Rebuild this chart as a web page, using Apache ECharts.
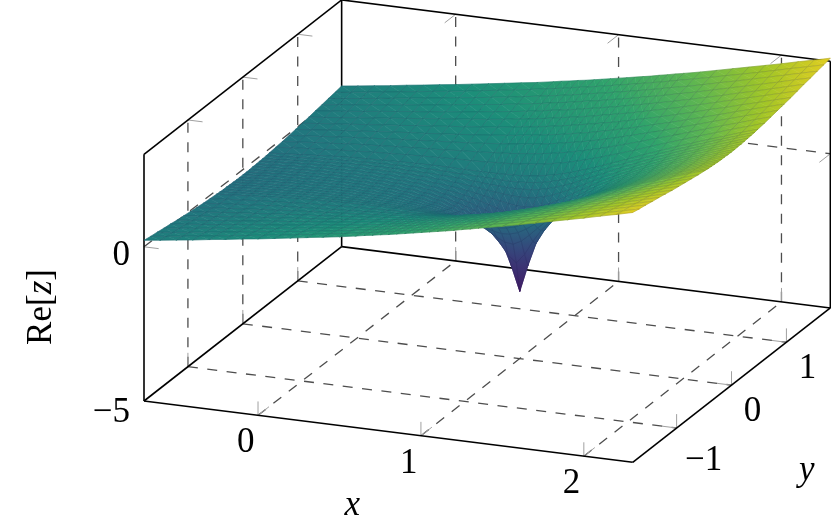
<!DOCTYPE html>
<html><head><meta charset="utf-8"><style>html,body{margin:0;padding:0;background:#fff}#c{width:831px;height:525px}</style>
<script src="https://cdn.jsdelivr.net/npm/echarts@6/dist/echarts.min.js"></script></head><body><div id="c"></div>
<script>
const xTicks=[0,1,2], yTicks=[-1,0,1], zTicks=[-5,0];
const xTickLabels=['0','1','2'], yTickLabels=['\u22121','0','1'], zTickLabels=['\u22125','0'];
const xRange=[-0.7,2.3], yRange=[-1.8,1.8], zRange=[-5,3];
const xValues=[-0.7,-0.6,-0.5,-0.4,-0.3,-0.2,-0.1,0,0.1,0.2,0.3,0.4,0.5,0.6,0.65,0.7,0.75,0.8,0.85,0.9,0.95,1,1.05,1.1,1.15,1.2,1.25,1.3,1.35,1.4,1.5,1.6,1.7,1.8,1.9,2,2.1,2.2,2.3];
const yHalf=[0,0.06,0.12,0.18,0.24,0.3,0.36,0.42,0.48,0.6,0.72,0.84,0.96,1.08,1.2,1.32,1.44,1.56,1.68,1.8];
const zHalf=[
[-0.17,-0.13,-0.09,-0.06,-0.04,-0.02,0,0,-0.01,-0.02,-0.06,-0.11,-0.19,-0.32,-0.40,-0.50,-0.64,-0.81,-1.05,-1.40,-2.05,-2.82,-1.95,-1.20,-0.75,-0.41,-0.14,0.10,0.30,0.48,0.81,1.09,1.34,1.58,1.79,2.00,2.20,2.38,2.56],
[-0.17,-0.13,-0.09,-0.06,-0.04,-0.02,0,0,0,-0.02,-0.05,-0.11,-0.19,-0.31,-0.39,-0.48,-0.61,-0.77,-0.97,-1.25,-1.60,-1.81,-1.50,-1.05,-0.67,-0.37,-0.11,0.12,0.31,0.49,0.81,1.09,1.35,1.58,1.80,2.00,2.20,2.38,2.56],
[-0.17,-0.13,-0.09,-0.06,-0.03,-0.01,0,0.01,0,-0.01,-0.04,-0.09,-0.17,-0.27,-0.34,-0.43,-0.53,-0.66,-0.80,-0.96,-1.09,-1.12,-0.99,-0.76,-0.50,-0.26,-0.03,0.17,0.36,0.53,0.83,1.11,1.36,1.59,1.80,2.01,2.20,2.39,2.57],
[-0.16,-0.12,-0.09,-0.06,-0.03,-0.01,0.01,0.02,0.01,0,-0.02,-0.07,-0.13,-0.22,-0.28,-0.35,-0.43,-0.51,-0.60,-0.68,-0.73,-0.71,-0.63,-0.48,-0.30,-0.11,0.07,0.25,0.42,0.58,0.87,1.13,1.38,1.60,1.81,2.02,2.21,2.39,2.57],
[-0.16,-0.12,-0.08,-0.05,-0.02,0,0.02,0.03,0.03,0.02,0,-0.04,-0.09,-0.16,-0.21,-0.26,-0.31,-0.36,-0.41,-0.45,-0.46,-0.43,-0.36,-0.25,-0.11,0.04,0.19,0.34,0.49,0.64,0.91,1.16,1.40,1.62,1.83,2.03,2.22,2.40,2.58],
[-0.15,-0.11,-0.07,-0.04,-0.01,0.01,0.03,0.04,0.05,0.04,0.03,0,-0.04,-0.09,-0.12,-0.16,-0.19,-0.22,-0.24,-0.25,-0.24,-0.20,-0.14,-0.05,0.06,0.18,0.31,0.44,0.58,0.71,0.96,1.20,1.43,1.64,1.85,2.04,2.23,2.41,2.59],
[-0.15,-0.11,-0.07,-0.03,0,0.03,0.05,0.06,0.07,0.06,0.06,0.04,0.02,-0.02,-0.04,-0.06,-0.07,-0.09,-0.09,-0.08,-0.06,-0.02,0.04,0.12,0.21,0.31,0.43,0.54,0.66,0.78,1.02,1.24,1.46,1.67,1.87,2.06,2.25,2.43,2.60],
[-0.14,-0.10,-0.06,-0.02,0.01,0.04,0.06,0.08,0.09,0.10,0.10,0.09,0.07,0.06,0.05,0.04,0.03,0.03,0.04,0.06,0.09,0.13,0.19,0.26,0.34,0.43,0.53,0.64,0.75,0.86,1.07,1.29,1.50,1.70,1.89,2.08,2.26,2.44,2.61],
[-0.13,-0.09,-0.05,-0.01,0.03,0.06,0.08,0.10,0.12,0.13,0.14,0.14,0.13,0.13,0.13,0.13,0.14,0.15,0.16,0.19,0.22,0.27,0.32,0.39,0.46,0.55,0.64,0.73,0.83,0.93,1.13,1.34,1.54,1.73,1.92,2.10,2.28,2.46,2.63],
[-0.11,-0.06,-0.02,0.02,0.06,0.09,0.13,0.15,0.18,0.20,0.22,0.24,0.25,0.27,0.29,0.30,0.32,0.34,0.37,0.40,0.44,0.49,0.54,0.60,0.67,0.74,0.82,0.90,0.99,1.07,1.25,1.44,1.62,1.80,1.98,2.15,2.33,2.49,2.66],
[-0.09,-0.04,0.01,0.05,0.10,0.14,0.17,0.21,0.24,0.27,0.30,0.34,0.37,0.41,0.43,0.45,0.48,0.51,0.54,0.58,0.62,0.67,0.72,0.78,0.84,0.91,0.98,1.05,1.13,1.21,1.37,1.54,1.70,1.87,2.04,2.21,2.37,2.54,2.70],
[-0.06,-0.01,0.04,0.09,0.14,0.18,0.23,0.27,0.31,0.35,0.39,0.43,0.48,0.53,0.56,0.59,0.62,0.65,0.69,0.73,0.78,0.83,0.88,0.93,0.99,1.05,1.12,1.19,1.26,1.33,1.48,1.63,1.79,1.95,2.11,2.27,2.43,2.58,2.74],
[-0.03,0.02,0.08,0.13,0.18,0.23,0.28,0.33,0.37,0.42,0.47,0.52,0.58,0.64,0.67,0.71,0.74,0.78,0.82,0.86,0.91,0.96,1.01,1.06,1.12,1.18,1.24,1.31,1.37,1.44,1.58,1.72,1.87,2.02,2.17,2.33,2.48,2.63,2.78],
[0,0.06,0.11,0.17,0.22,0.28,0.33,0.39,0.44,0.50,0.55,0.61,0.67,0.74,0.78,0.81,0.85,0.89,0.94,0.98,1.03,1.08,1.13,1.18,1.24,1.29,1.35,1.41,1.48,1.54,1.67,1.81,1.95,2.10,2.24,2.39,2.53,2.68,2.82],
[0.03,0.09,0.15,0.21,0.27,0.33,0.39,0.45,0.51,0.57,0.63,0.69,0.76,0.84,0.87,0.91,0.95,1.00,1.04,1.09,1.13,1.18,1.23,1.29,1.34,1.40,1.45,1.51,1.57,1.64,1.76,1.89,2.03,2.17,2.31,2.45,2.59,2.73,2.87],
[0.07,0.13,0.19,0.25,0.32,0.38,0.44,0.50,0.57,0.63,0.70,0.77,0.84,0.92,0.96,1.00,1.05,1.09,1.13,1.18,1.23,1.28,1.33,1.38,1.43,1.49,1.55,1.60,1.66,1.72,1.84,1.97,2.10,2.23,2.37,2.50,2.64,2.78,2.92],
[0.10,0.17,0.23,0.30,0.36,0.43,0.49,0.56,0.63,0.70,0.77,0.84,0.92,1.00,1.04,1.09,1.13,1.17,1.22,1.27,1.32,1.36,1.42,1.47,1.52,1.57,1.63,1.69,1.74,1.80,1.92,2.04,2.17,2.30,2.43,2.56,2.69,2.83,2.96],
[0.14,0.20,0.27,0.34,0.41,0.48,0.55,0.62,0.69,0.76,0.84,0.91,0.99,1.08,1.12,1.16,1.21,1.25,1.30,1.35,1.40,1.44,1.50,1.55,1.60,1.65,1.71,1.76,1.82,1.88,1.99,2.11,2.24,2.36,2.49,2.62,2.75,2.88,3.01],
[0.17,0.24,0.31,0.38,0.45,0.52,0.60,0.67,0.74,0.82,0.90,0.98,1.06,1.15,1.19,1.23,1.28,1.33,1.37,1.42,1.47,1.52,1.57,1.62,1.67,1.73,1.78,1.83,1.89,1.95,2.06,2.18,2.30,2.42,2.54,2.67,2.80,2.92,3.05],
[0.21,0.28,0.35,0.42,0.50,0.57,0.65,0.72,0.80,0.88,0.96,1.04,1.12,1.21,1.26,1.30,1.35,1.39,1.44,1.49,1.54,1.59,1.64,1.69,1.74,1.79,1.85,1.90,1.96,2.01,2.12,2.24,2.36,2.48,2.60,2.72,2.85,2.97,3.10]
];
const viridis=['#440154','#482878','#3e4989','#31688e','#26828e','#1f9e89','#35b779','#6ece58','#b5de2b','#fde725'];
// where each height sits on the colour ramp
const metaZ=[-2.82,-1.5,-0.5,0,0.3,1.4,2,2.5,3.1];
const metaT=[0.08,0.22,0.36,0.46,0.50,0.65,0.76,0.87,1];
const shade=0.89;

const yAll=yHalf.slice().reverse().concat(yHalf.slice(1).map(v=>-v));
const zAll=zHalf.slice().reverse().concat(zHalf.slice(1));

const O={u:144,v:401}, ex={u:162.9,v:20.43}, ey={u:54.9,v:-42.87}, ez=30.84;
function proj(x,y,z){const a=x-xRange[0],b=y-yRange[0],c=z-zRange[0];
  return [O.u+a*ex.u+b*ey.u, O.v+a*ex.v+b*ey.v-c*ez];}
const hex=c=>[1,3,5].map(i=>parseInt(c.substr(i,2),16));
const rgbStops=viridis.map(hex);
function colorAt(t){t=Math.max(0,Math.min(1,t))*(rgbStops.length-1);const i=Math.min(Math.floor(t),rgbStops.length-2),f=t-i;
  const a=rgbStops[i],b=rgbStops[i+1];return 'rgb('+[0,1,2].map(k=>Math.round((a[k]+(b[k]-a[k])*f)*shade)).join(',')+')';}
function tOf(z){for(let i=0;i<metaZ.length-1;i++){if(z<=metaZ[i+1]||i===metaZ.length-2){const f=(z-metaZ[i])/(metaZ[i+1]-metaZ[i]);return metaT[i]+(metaT[i+1]-metaT[i])*f;}}}

function triangle(p,ts){
  const A=p[1][0]-p[0][0],B=p[1][1]-p[0][1],C=p[2][0]-p[0][0],D=p[2][1]-p[0][1];
  const d1=ts[1]-ts[0],d2=ts[2]-ts[0],det=A*D-B*C;
  let fill;const tmin=Math.min(...ts),tmax=Math.max(...ts);
  if(Math.abs(det)<0.02||tmax-tmin<1e-4){fill=colorAt((ts[0]+ts[1]+ts[2])/3);}
  else{const gx=(d1*D-d2*B)/det,gy=(d2*A-d1*C)/det,g2=gx*gx+gy*gy;
    const s=(tmin-ts[0])/g2,e=(tmax-ts[0])/g2;const n=4,stops=[];
    for(let i=0;i<=n;i++)stops.push({offset:i/n,color:colorAt(tmin+(tmax-tmin)*i/n)});
    fill=new echarts.graphic.LinearGradient(p[0][0]+gx*s,p[0][1]+gy*s,p[0][0]+gx*e,p[0][1]+gy*e,stops,true);}
  return {type:'polygon',shape:{points:p},style:{fill:fill,stroke:fill,lineWidth:0.6},silent:true};
}
const cells=[];
for(let j=0;j<yAll.length-1;j++)for(let i=0;i<xValues.length-1;i++)cells.push([i,j]);

function renderCell(params,api){
  const i=api.value(0),j=api.value(1);
  const P=(a,b)=>api.coord(proj(xValues[a],yAll[b],zAll[b][a]));
  const T=(a,b)=>tOf(zAll[b][a]);
  const p00=P(i,j),p10=P(i+1,j),p01=P(i,j+1),p11=P(i+1,j+1);
  return {type:'group',children:[
    triangle([p00,p10,p11],[T(i,j),T(i+1,j),T(i+1,j+1)]),
    triangle([p00,p11,p01],[T(i,j),T(i+1,j+1),T(i,j+1)]),
    {type:'polygon',shape:{points:[p00,p10,p11,p01]},style:{fill:'none',stroke:'rgba(25,25,70,0.22)',lineWidth:0.6},silent:true}
  ]};
}
function seg(api,a,b,st){return {type:'line',shape:{x1:api.coord(a)[0],y1:api.coord(a)[1],x2:api.coord(b)[0],y2:api.coord(b)[1]},style:Object.assign({fill:null},st),silent:true};}
const DASH={stroke:'#4d4d4d',lineWidth:1.3,lineDash:[10,9.5]};
const TICK={stroke:'#a0a0a0',lineWidth:1};
const BOX={stroke:'#000',lineWidth:1.6};
const [x0,x1]=xRange,[y0,y1]=yRange,[z0,z1]=zRange;
const tickZ=0.45,tickY=0.2,tickX=0.09;
function renderFrame(params,api){
  const L=(a,b,st)=>seg(api,proj(...a),proj(...b),st),c=[];
  xTicks.forEach(x=>{c.push(L([x,y0,z0],[x,y1,z0],DASH),L([x,y1,z0],[x,y1,z1],DASH));});
  yTicks.forEach(y=>{c.push(L([x0,y,z0],[x1,y,z0],DASH),L([x0,y,z0],[x0,y,z1],DASH));});
  zTicks.forEach(z=>{if(z>z0)c.push(L([x0,y0,z],[x0,y1,z],DASH),L([x0,y1,z],[x1,y1,z],DASH));});
  xTicks.forEach(x=>{c.push(L([x,y0,z0],[x,y0+tickY,z0],TICK),L([x,y0,z0],[x,y0,z0+tickZ],TICK),
    L([x,y1,z0],[x,y1,z0+tickZ],TICK),L([x,y1,z1],[x,y1-tickY,z1],TICK));});
  yTicks.forEach(y=>{c.push(L([x1,y,z0],[x1-tickX,y,z0],TICK),L([x1,y,z0],[x1,y,z0+tickZ],TICK),
    L([x0,y,z0],[x0,y,z0+tickZ],TICK),L([x0,y,z1],[x0+tickX,y,z1],TICK));});
  zTicks.forEach(z=>{if(z>z0)c.push(L([x0,y0,z],[x0+tickX,y0,z],TICK),L([x1,y1,z],[x1,y1-tickY,z],TICK));});
  [[[x0,y0,z0],[x0,y0,z1]],[[x0,y0,z1],[x0,y1,z1]],[[x0,y1,z1],[x1,y1,z1]],[[x1,y1,z1],[x1,y1,z0]],
   [[x0,y1,z1],[x0,y1,z0]],[[x0,y0,z0],[x0,y1,z0]],[[x0,y1,z0],[x1,y1,z0]],
   [[x0,y0,z0],[x1,y0,z0]],[[x1,y0,z0],[x1,y1,z0]]].forEach(e=>c.push(L(e[0],e[1],BOX)));
  return {type:'group',children:c};
}
const FONT='"Liberation Serif","DejaVu Serif",serif';
function label(api,pos,str,dx,dy,align,extra){const q=api.coord(pos);
  return {type:'text',x:q[0]+dx,y:q[1]+dy+2.5,silent:true,style:Object.assign({text:str,font:'35px '+FONT,fill:'#000',align:align||'center',verticalAlign:'middle'},extra||{})};}
function renderLabels(params,api){
  const c=[];
  xTicks.forEach((x,i)=>c.push(label(api,proj(x,y0,z0),xTickLabels[i],-12.3,25.5)));
  yTicks.forEach((y,i)=>{const m=yTickLabels[i][0]==='\u2212'?6:0;c.push(label(api,proj(x1,y,z0),yTickLabels[i],21+m,24.5+m));});
  zTicks.forEach((z,i)=>{const m=zTickLabels[i][0]==='\u2212'?2.5:0;c.push(label(api,proj(x0,y0,z),zTickLabels[i],-14,6.5+m,'right'));});
  c.push(label(api,proj((x0+x1)/2,y0,z0),'x',-36,72,'center',{font:'italic 35px '+FONT}));
  c.push(label(api,proj(x1,y0,z0),'y',174,6,'center',{font:'italic 35px '+FONT}));
  const q=api.coord([41.5,307]);
  c.push({type:'text',x:q[0],y:q[1],rotation:Math.PI/2,silent:true,style:{rich:{r:{font:'35px '+FONT,fill:'#000'},i:{font:'italic 35px '+FONT,fill:'#000'}},text:'{r|Re[}{i|z}{r|]}',align:'center',verticalAlign:'middle'}});
  return {type:'group',children:c};
}
const chart=echarts.init(document.getElementById('c'),null,{renderer:'canvas'});
chart.setOption({animation:false,backgroundColor:'#fff',
  grid:{left:0,right:0,top:0,bottom:0},
  xAxis:{type:'value',min:0,max:831,show:false},
  yAxis:{type:'value',min:0,max:525,inverse:true,show:false},
  series:[
   {type:'custom',coordinateSystem:'cartesian2d',data:[[0,0]],renderItem:renderFrame,clip:false,z:1,silent:true},
   {type:'custom',coordinateSystem:'cartesian2d',data:cells,renderItem:renderCell,clip:false,z:2,silent:true,progressive:0,encode:{x:0,y:1}},
   {type:'custom',coordinateSystem:'cartesian2d',data:[[0,0]],renderItem:renderLabels,clip:false,z:3,silent:true}
  ]});
</script></body></html>
